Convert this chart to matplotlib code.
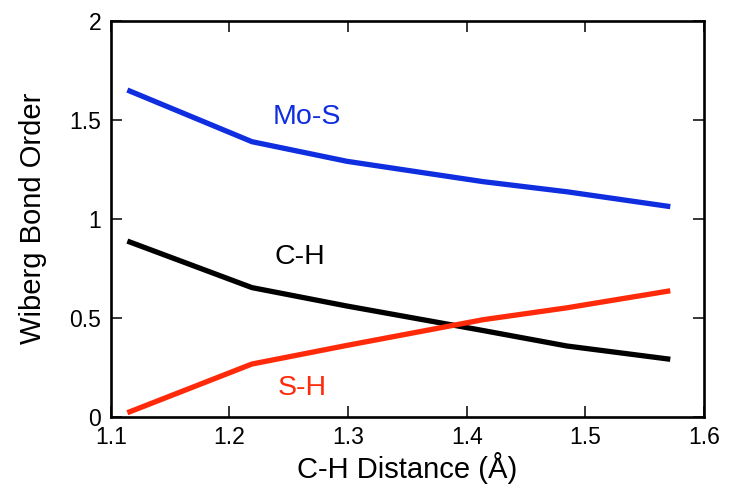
import matplotlib
matplotlib.use("Agg")
import matplotlib.pyplot as plt
from matplotlib.ticker import FuncFormatter

plt.rcParams["font.family"] = ["Liberation Sans", "DejaVu Sans"]

# C-H distance (Angstrom) and Wiberg bond orders
ch_dist = [1.114, 1.219, 1.299, 1.414, 1.4845, 1.5716]
mo_s    = [1.65, 1.389, 1.29, 1.187, 1.136, 1.061]
c_h     = [0.887, 0.652, 0.559, 0.435, 0.357, 0.290]
s_h     = [0.02, 0.266, 0.36, 0.49, 0.55, 0.636]

blue = "#0f2ee0"
red  = "#ff2a0a"

fig = plt.figure(figsize=(7.29, 4.97), dpi=100)
ax = fig.add_axes([0.1519, 0.1616, 0.8138, 0.7967])

ax.plot(ch_dist, mo_s, color=blue, lw=3.8, solid_capstyle="butt")
ax.plot(ch_dist, c_h, color="black", lw=3.8, solid_capstyle="butt")
ax.plot(ch_dist, s_h, color=red, lw=3.8, solid_capstyle="butt")

ax.text(1.2653, 1.515, "Mo-S", color=blue, fontsize=20.5, ha="center", va="center")
ax.text(1.2596, 0.805, "C-H", color="black", fontsize=20.5, ha="center", va="center")
ax.text(1.261, 0.143, "S-H", color=red, fontsize=20.5, ha="center", va="center")

ax.set_xlim(1.1, 1.6)
ax.set_ylim(0, 2)
ax.set_xticks([1.1, 1.2, 1.3, 1.4, 1.5, 1.6])
ax.set_yticks([0, 0.5, 1, 1.5, 2])
ax.yaxis.set_major_formatter(FuncFormatter(lambda v, p: f"{v:g}"))

ax.tick_params(direction="in", length=8, width=1.1, top=True, right=True,
               labelsize=16.5, pad=7)
for s in ax.spines.values():
    s.set_linewidth(1.9)

ax.set_xlabel("C-H Distance (Å)", fontsize=21, labelpad=2)
ax.set_ylabel("Wiberg Bond Order", fontsize=21, labelpad=16)

fig.savefig("out.png", dpi=100)
